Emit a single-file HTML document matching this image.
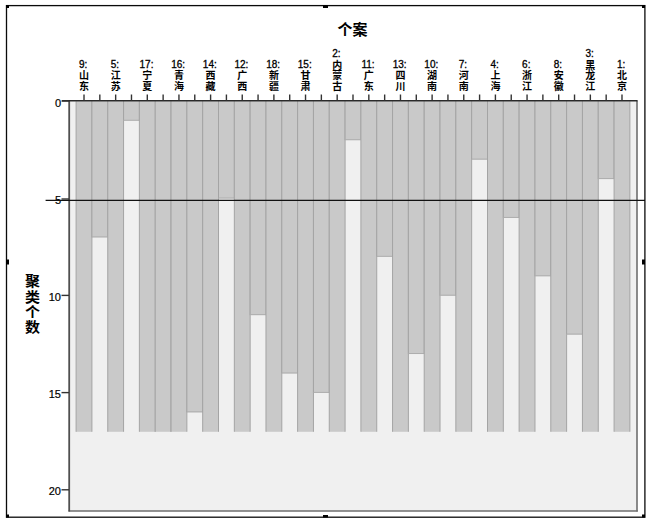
<!DOCTYPE html>
<html><head><meta charset="utf-8"><title>Icicle</title>
<style>
html,body{margin:0;padding:0;background:#fff;width:650px;height:524px;overflow:hidden}
svg{display:block}
.ax{font-family:"Liberation Sans","Noto Sans CJK SC",sans-serif;font-size:11px;fill:#000;stroke:#000;stroke-width:0.2px}
.lb{font-family:"Liberation Sans","Noto Sans CJK SC",sans-serif;font-size:10px;fill:#000;stroke:#000;stroke-width:0.3px}
.cj{font-family:"Liberation Sans","Noto Sans CJK SC",sans-serif;font-size:10px;font-weight:700;fill:#000}
.tt{font-family:"Liberation Sans","Noto Sans CJK SC",sans-serif;font-size:15px;font-weight:bold;fill:#000}
</style></head>
<body>
<svg width="650" height="524" viewBox="0 0 650 524">
<rect x="0" y="0" width="650" height="524" fill="#fff"/>
<rect x="69" y="100.7" width="568" height="410.3" fill="#f0f0f0"/>
<rect x="76.10" y="101.30" width="15.82" height="330.48" fill="#c9c9c9"/>
<line x1="76.10" y1="101.30" x2="76.10" y2="431.78" stroke="#a4a4a4" stroke-width="1"/>
<line x1="91.92" y1="101.30" x2="91.92" y2="431.78" stroke="#a4a4a4" stroke-width="1"/>
<rect x="91.92" y="101.30" width="15.82" height="136.08" fill="#c9c9c9"/>
<line x1="91.92" y1="101.30" x2="91.92" y2="237.38" stroke="#a4a4a4" stroke-width="1"/>
<line x1="107.75" y1="101.30" x2="107.75" y2="237.38" stroke="#a4a4a4" stroke-width="1"/>
<line x1="91.92" y1="236.88" x2="107.75" y2="236.88" stroke="#aeaeae" stroke-width="1"/>
<rect x="107.75" y="101.30" width="15.82" height="330.48" fill="#c9c9c9"/>
<line x1="107.75" y1="101.30" x2="107.75" y2="431.78" stroke="#a4a4a4" stroke-width="1"/>
<line x1="123.57" y1="101.30" x2="123.57" y2="431.78" stroke="#a4a4a4" stroke-width="1"/>
<rect x="123.57" y="101.30" width="15.82" height="19.44" fill="#c9c9c9"/>
<line x1="123.57" y1="101.30" x2="123.57" y2="120.74" stroke="#a4a4a4" stroke-width="1"/>
<line x1="139.39" y1="101.30" x2="139.39" y2="120.74" stroke="#a4a4a4" stroke-width="1"/>
<line x1="123.57" y1="120.24" x2="139.39" y2="120.24" stroke="#aeaeae" stroke-width="1"/>
<rect x="139.39" y="101.30" width="15.82" height="330.48" fill="#c9c9c9"/>
<line x1="139.39" y1="101.30" x2="139.39" y2="431.78" stroke="#a4a4a4" stroke-width="1"/>
<line x1="155.22" y1="101.30" x2="155.22" y2="431.78" stroke="#a4a4a4" stroke-width="1"/>
<rect x="155.22" y="101.30" width="15.82" height="330.48" fill="#c9c9c9"/>
<line x1="155.22" y1="101.30" x2="155.22" y2="431.78" stroke="#a4a4a4" stroke-width="1"/>
<line x1="171.04" y1="101.30" x2="171.04" y2="431.78" stroke="#a4a4a4" stroke-width="1"/>
<rect x="171.04" y="101.30" width="15.82" height="330.48" fill="#c9c9c9"/>
<line x1="171.04" y1="101.30" x2="171.04" y2="431.78" stroke="#a4a4a4" stroke-width="1"/>
<line x1="186.86" y1="101.30" x2="186.86" y2="431.78" stroke="#a4a4a4" stroke-width="1"/>
<rect x="186.86" y="101.30" width="15.82" height="311.04" fill="#c9c9c9"/>
<line x1="186.86" y1="101.30" x2="186.86" y2="412.34" stroke="#a4a4a4" stroke-width="1"/>
<line x1="202.68" y1="101.30" x2="202.68" y2="412.34" stroke="#a4a4a4" stroke-width="1"/>
<line x1="186.86" y1="411.84" x2="202.68" y2="411.84" stroke="#aeaeae" stroke-width="1"/>
<rect x="202.68" y="101.30" width="15.82" height="330.48" fill="#c9c9c9"/>
<line x1="202.68" y1="101.30" x2="202.68" y2="431.78" stroke="#a4a4a4" stroke-width="1"/>
<line x1="218.51" y1="101.30" x2="218.51" y2="431.78" stroke="#a4a4a4" stroke-width="1"/>
<rect x="218.51" y="101.30" width="15.82" height="97.20" fill="#c9c9c9"/>
<line x1="218.51" y1="101.30" x2="218.51" y2="198.50" stroke="#a4a4a4" stroke-width="1"/>
<line x1="234.33" y1="101.30" x2="234.33" y2="198.50" stroke="#a4a4a4" stroke-width="1"/>
<line x1="218.51" y1="198.00" x2="234.33" y2="198.00" stroke="#aeaeae" stroke-width="1"/>
<rect x="234.33" y="101.30" width="15.82" height="330.48" fill="#c9c9c9"/>
<line x1="234.33" y1="101.30" x2="234.33" y2="431.78" stroke="#a4a4a4" stroke-width="1"/>
<line x1="250.15" y1="101.30" x2="250.15" y2="431.78" stroke="#a4a4a4" stroke-width="1"/>
<rect x="250.15" y="101.30" width="15.82" height="213.84" fill="#c9c9c9"/>
<line x1="250.15" y1="101.30" x2="250.15" y2="315.14" stroke="#a4a4a4" stroke-width="1"/>
<line x1="265.98" y1="101.30" x2="265.98" y2="315.14" stroke="#a4a4a4" stroke-width="1"/>
<line x1="250.15" y1="314.64" x2="265.98" y2="314.64" stroke="#aeaeae" stroke-width="1"/>
<rect x="265.98" y="101.30" width="15.82" height="330.48" fill="#c9c9c9"/>
<line x1="265.98" y1="101.30" x2="265.98" y2="431.78" stroke="#a4a4a4" stroke-width="1"/>
<line x1="281.80" y1="101.30" x2="281.80" y2="431.78" stroke="#a4a4a4" stroke-width="1"/>
<rect x="281.80" y="101.30" width="15.82" height="272.16" fill="#c9c9c9"/>
<line x1="281.80" y1="101.30" x2="281.80" y2="373.46" stroke="#a4a4a4" stroke-width="1"/>
<line x1="297.62" y1="101.30" x2="297.62" y2="373.46" stroke="#a4a4a4" stroke-width="1"/>
<line x1="281.80" y1="372.96" x2="297.62" y2="372.96" stroke="#aeaeae" stroke-width="1"/>
<rect x="297.62" y="101.30" width="15.82" height="330.48" fill="#c9c9c9"/>
<line x1="297.62" y1="101.30" x2="297.62" y2="431.78" stroke="#a4a4a4" stroke-width="1"/>
<line x1="313.44" y1="101.30" x2="313.44" y2="431.78" stroke="#a4a4a4" stroke-width="1"/>
<rect x="313.44" y="101.30" width="15.82" height="291.60" fill="#c9c9c9"/>
<line x1="313.44" y1="101.30" x2="313.44" y2="392.90" stroke="#a4a4a4" stroke-width="1"/>
<line x1="329.27" y1="101.30" x2="329.27" y2="392.90" stroke="#a4a4a4" stroke-width="1"/>
<line x1="313.44" y1="392.40" x2="329.27" y2="392.40" stroke="#aeaeae" stroke-width="1"/>
<rect x="329.27" y="101.30" width="15.82" height="330.48" fill="#c9c9c9"/>
<line x1="329.27" y1="101.30" x2="329.27" y2="431.78" stroke="#a4a4a4" stroke-width="1"/>
<line x1="345.09" y1="101.30" x2="345.09" y2="431.78" stroke="#a4a4a4" stroke-width="1"/>
<rect x="345.09" y="101.30" width="15.82" height="38.88" fill="#c9c9c9"/>
<line x1="345.09" y1="101.30" x2="345.09" y2="140.18" stroke="#a4a4a4" stroke-width="1"/>
<line x1="360.91" y1="101.30" x2="360.91" y2="140.18" stroke="#a4a4a4" stroke-width="1"/>
<line x1="345.09" y1="139.68" x2="360.91" y2="139.68" stroke="#aeaeae" stroke-width="1"/>
<rect x="360.91" y="101.30" width="15.82" height="330.48" fill="#c9c9c9"/>
<line x1="360.91" y1="101.30" x2="360.91" y2="431.78" stroke="#a4a4a4" stroke-width="1"/>
<line x1="376.74" y1="101.30" x2="376.74" y2="431.78" stroke="#a4a4a4" stroke-width="1"/>
<rect x="376.74" y="101.30" width="15.82" height="155.52" fill="#c9c9c9"/>
<line x1="376.74" y1="101.30" x2="376.74" y2="256.82" stroke="#a4a4a4" stroke-width="1"/>
<line x1="392.56" y1="101.30" x2="392.56" y2="256.82" stroke="#a4a4a4" stroke-width="1"/>
<line x1="376.74" y1="256.32" x2="392.56" y2="256.32" stroke="#aeaeae" stroke-width="1"/>
<rect x="392.56" y="101.30" width="15.82" height="330.48" fill="#c9c9c9"/>
<line x1="392.56" y1="101.30" x2="392.56" y2="431.78" stroke="#a4a4a4" stroke-width="1"/>
<line x1="408.38" y1="101.30" x2="408.38" y2="431.78" stroke="#a4a4a4" stroke-width="1"/>
<rect x="408.38" y="101.30" width="15.82" height="252.72" fill="#c9c9c9"/>
<line x1="408.38" y1="101.30" x2="408.38" y2="354.02" stroke="#a4a4a4" stroke-width="1"/>
<line x1="424.21" y1="101.30" x2="424.21" y2="354.02" stroke="#a4a4a4" stroke-width="1"/>
<line x1="408.38" y1="353.52" x2="424.21" y2="353.52" stroke="#aeaeae" stroke-width="1"/>
<rect x="424.21" y="101.30" width="15.82" height="330.48" fill="#c9c9c9"/>
<line x1="424.21" y1="101.30" x2="424.21" y2="431.78" stroke="#a4a4a4" stroke-width="1"/>
<line x1="440.03" y1="101.30" x2="440.03" y2="431.78" stroke="#a4a4a4" stroke-width="1"/>
<rect x="440.03" y="101.30" width="15.82" height="194.40" fill="#c9c9c9"/>
<line x1="440.03" y1="101.30" x2="440.03" y2="295.70" stroke="#a4a4a4" stroke-width="1"/>
<line x1="455.85" y1="101.30" x2="455.85" y2="295.70" stroke="#a4a4a4" stroke-width="1"/>
<line x1="440.03" y1="295.20" x2="455.85" y2="295.20" stroke="#aeaeae" stroke-width="1"/>
<rect x="455.85" y="101.30" width="15.82" height="330.48" fill="#c9c9c9"/>
<line x1="455.85" y1="101.30" x2="455.85" y2="431.78" stroke="#a4a4a4" stroke-width="1"/>
<line x1="471.67" y1="101.30" x2="471.67" y2="431.78" stroke="#a4a4a4" stroke-width="1"/>
<rect x="471.67" y="101.30" width="15.82" height="58.32" fill="#c9c9c9"/>
<line x1="471.67" y1="101.30" x2="471.67" y2="159.62" stroke="#a4a4a4" stroke-width="1"/>
<line x1="487.50" y1="101.30" x2="487.50" y2="159.62" stroke="#a4a4a4" stroke-width="1"/>
<line x1="471.67" y1="159.12" x2="487.50" y2="159.12" stroke="#aeaeae" stroke-width="1"/>
<rect x="487.50" y="101.30" width="15.82" height="330.48" fill="#c9c9c9"/>
<line x1="487.50" y1="101.30" x2="487.50" y2="431.78" stroke="#a4a4a4" stroke-width="1"/>
<line x1="503.32" y1="101.30" x2="503.32" y2="431.78" stroke="#a4a4a4" stroke-width="1"/>
<rect x="503.32" y="101.30" width="15.82" height="116.64" fill="#c9c9c9"/>
<line x1="503.32" y1="101.30" x2="503.32" y2="217.94" stroke="#a4a4a4" stroke-width="1"/>
<line x1="519.14" y1="101.30" x2="519.14" y2="217.94" stroke="#a4a4a4" stroke-width="1"/>
<line x1="503.32" y1="217.44" x2="519.14" y2="217.44" stroke="#aeaeae" stroke-width="1"/>
<rect x="519.14" y="101.30" width="15.82" height="330.48" fill="#c9c9c9"/>
<line x1="519.14" y1="101.30" x2="519.14" y2="431.78" stroke="#a4a4a4" stroke-width="1"/>
<line x1="534.97" y1="101.30" x2="534.97" y2="431.78" stroke="#a4a4a4" stroke-width="1"/>
<rect x="534.97" y="101.30" width="15.82" height="174.96" fill="#c9c9c9"/>
<line x1="534.97" y1="101.30" x2="534.97" y2="276.26" stroke="#a4a4a4" stroke-width="1"/>
<line x1="550.79" y1="101.30" x2="550.79" y2="276.26" stroke="#a4a4a4" stroke-width="1"/>
<line x1="534.97" y1="275.76" x2="550.79" y2="275.76" stroke="#aeaeae" stroke-width="1"/>
<rect x="550.79" y="101.30" width="15.82" height="330.48" fill="#c9c9c9"/>
<line x1="550.79" y1="101.30" x2="550.79" y2="431.78" stroke="#a4a4a4" stroke-width="1"/>
<line x1="566.61" y1="101.30" x2="566.61" y2="431.78" stroke="#a4a4a4" stroke-width="1"/>
<rect x="566.61" y="101.30" width="15.82" height="233.28" fill="#c9c9c9"/>
<line x1="566.61" y1="101.30" x2="566.61" y2="334.58" stroke="#a4a4a4" stroke-width="1"/>
<line x1="582.44" y1="101.30" x2="582.44" y2="334.58" stroke="#a4a4a4" stroke-width="1"/>
<line x1="566.61" y1="334.08" x2="582.44" y2="334.08" stroke="#aeaeae" stroke-width="1"/>
<rect x="582.44" y="101.30" width="15.82" height="330.48" fill="#c9c9c9"/>
<line x1="582.44" y1="101.30" x2="582.44" y2="431.78" stroke="#a4a4a4" stroke-width="1"/>
<line x1="598.26" y1="101.30" x2="598.26" y2="431.78" stroke="#a4a4a4" stroke-width="1"/>
<rect x="598.26" y="101.30" width="15.82" height="77.76" fill="#c9c9c9"/>
<line x1="598.26" y1="101.30" x2="598.26" y2="179.06" stroke="#a4a4a4" stroke-width="1"/>
<line x1="614.08" y1="101.30" x2="614.08" y2="179.06" stroke="#a4a4a4" stroke-width="1"/>
<line x1="598.26" y1="178.56" x2="614.08" y2="178.56" stroke="#aeaeae" stroke-width="1"/>
<rect x="614.08" y="101.30" width="15.82" height="330.48" fill="#c9c9c9"/>
<line x1="614.08" y1="101.30" x2="614.08" y2="431.78" stroke="#a4a4a4" stroke-width="1"/>
<line x1="629.90" y1="101.30" x2="629.90" y2="431.78" stroke="#a4a4a4" stroke-width="1"/>
<line x1="637" y1="100.5" x2="637" y2="511.5" stroke="#6e6e6e" stroke-width="1.6"/>
<line x1="68.5" y1="511" x2="637.8" y2="511" stroke="#6e6e6e" stroke-width="1.6"/>
<line x1="69.2" y1="100" x2="69.2" y2="511.5" stroke="#505050" stroke-width="1.8"/>
<line x1="62" y1="100.8" x2="637.5" y2="100.8" stroke="#2a2a2a" stroke-width="1.6"/>
<line x1="84.01" y1="94.5" x2="84.01" y2="100.5" stroke="#333" stroke-width="1.4"/>
<line x1="99.83" y1="94.5" x2="99.83" y2="100.5" stroke="#333" stroke-width="1.4"/>
<line x1="115.66" y1="94.5" x2="115.66" y2="100.5" stroke="#333" stroke-width="1.4"/>
<line x1="131.48" y1="94.5" x2="131.48" y2="100.5" stroke="#333" stroke-width="1.4"/>
<line x1="147.30" y1="94.5" x2="147.30" y2="100.5" stroke="#333" stroke-width="1.4"/>
<line x1="163.13" y1="94.5" x2="163.13" y2="100.5" stroke="#333" stroke-width="1.4"/>
<line x1="178.95" y1="94.5" x2="178.95" y2="100.5" stroke="#333" stroke-width="1.4"/>
<line x1="194.77" y1="94.5" x2="194.77" y2="100.5" stroke="#333" stroke-width="1.4"/>
<line x1="210.60" y1="94.5" x2="210.60" y2="100.5" stroke="#333" stroke-width="1.4"/>
<line x1="226.42" y1="94.5" x2="226.42" y2="100.5" stroke="#333" stroke-width="1.4"/>
<line x1="242.24" y1="94.5" x2="242.24" y2="100.5" stroke="#333" stroke-width="1.4"/>
<line x1="258.06" y1="94.5" x2="258.06" y2="100.5" stroke="#333" stroke-width="1.4"/>
<line x1="273.89" y1="94.5" x2="273.89" y2="100.5" stroke="#333" stroke-width="1.4"/>
<line x1="289.71" y1="94.5" x2="289.71" y2="100.5" stroke="#333" stroke-width="1.4"/>
<line x1="305.53" y1="94.5" x2="305.53" y2="100.5" stroke="#333" stroke-width="1.4"/>
<line x1="321.36" y1="94.5" x2="321.36" y2="100.5" stroke="#333" stroke-width="1.4"/>
<line x1="337.18" y1="94.5" x2="337.18" y2="100.5" stroke="#333" stroke-width="1.4"/>
<line x1="353.00" y1="94.5" x2="353.00" y2="100.5" stroke="#333" stroke-width="1.4"/>
<line x1="368.83" y1="94.5" x2="368.83" y2="100.5" stroke="#333" stroke-width="1.4"/>
<line x1="384.65" y1="94.5" x2="384.65" y2="100.5" stroke="#333" stroke-width="1.4"/>
<line x1="400.47" y1="94.5" x2="400.47" y2="100.5" stroke="#333" stroke-width="1.4"/>
<line x1="416.29" y1="94.5" x2="416.29" y2="100.5" stroke="#333" stroke-width="1.4"/>
<line x1="432.12" y1="94.5" x2="432.12" y2="100.5" stroke="#333" stroke-width="1.4"/>
<line x1="447.94" y1="94.5" x2="447.94" y2="100.5" stroke="#333" stroke-width="1.4"/>
<line x1="463.76" y1="94.5" x2="463.76" y2="100.5" stroke="#333" stroke-width="1.4"/>
<line x1="479.59" y1="94.5" x2="479.59" y2="100.5" stroke="#333" stroke-width="1.4"/>
<line x1="495.41" y1="94.5" x2="495.41" y2="100.5" stroke="#333" stroke-width="1.4"/>
<line x1="511.23" y1="94.5" x2="511.23" y2="100.5" stroke="#333" stroke-width="1.4"/>
<line x1="527.06" y1="94.5" x2="527.06" y2="100.5" stroke="#333" stroke-width="1.4"/>
<line x1="542.88" y1="94.5" x2="542.88" y2="100.5" stroke="#333" stroke-width="1.4"/>
<line x1="558.70" y1="94.5" x2="558.70" y2="100.5" stroke="#333" stroke-width="1.4"/>
<line x1="574.52" y1="94.5" x2="574.52" y2="100.5" stroke="#333" stroke-width="1.4"/>
<line x1="590.35" y1="94.5" x2="590.35" y2="100.5" stroke="#333" stroke-width="1.4"/>
<line x1="606.17" y1="94.5" x2="606.17" y2="100.5" stroke="#333" stroke-width="1.4"/>
<line x1="621.99" y1="94.5" x2="621.99" y2="100.5" stroke="#333" stroke-width="1.4"/>
<line x1="61.5" y1="101.00" x2="69" y2="101.00" stroke="#333" stroke-width="1.4"/>
<text x="61" y="106.60" text-anchor="end" class="ax">0</text>
<line x1="61.5" y1="199.00" x2="69" y2="199.00" stroke="#333" stroke-width="1.4"/>
<text x="61" y="203.60" text-anchor="end" class="ax">5</text>
<line x1="61.5" y1="295.40" x2="69" y2="295.40" stroke="#333" stroke-width="1.4"/>
<text x="61" y="301.00" text-anchor="end" class="ax">10</text>
<line x1="61.5" y1="392.60" x2="69" y2="392.60" stroke="#333" stroke-width="1.4"/>
<text x="61" y="398.20" text-anchor="end" class="ax">15</text>
<line x1="61.5" y1="489.80" x2="69" y2="489.80" stroke="#333" stroke-width="1.4"/>
<text x="61" y="495.40" text-anchor="end" class="ax">20</text>
<line x1="45.6" y1="200.4" x2="645" y2="200.4" stroke="#111" stroke-width="1.1"/>
<text x="84.01" y="90.00" text-anchor="middle" class="cj">东</text>
<text x="84.01" y="79.40" text-anchor="middle" class="cj">山</text>
<text x="83.21" y="68.30" text-anchor="middle" class="lb">9:</text>
<text x="115.66" y="90.00" text-anchor="middle" class="cj">苏</text>
<text x="115.66" y="79.40" text-anchor="middle" class="cj">江</text>
<text x="114.86" y="68.30" text-anchor="middle" class="lb">5:</text>
<text x="147.30" y="90.00" text-anchor="middle" class="cj">夏</text>
<text x="147.30" y="79.40" text-anchor="middle" class="cj">宁</text>
<text x="146.50" y="68.30" text-anchor="middle" class="lb">17:</text>
<text x="178.95" y="90.00" text-anchor="middle" class="cj">海</text>
<text x="178.95" y="79.40" text-anchor="middle" class="cj">青</text>
<text x="178.15" y="68.30" text-anchor="middle" class="lb">16:</text>
<text x="210.60" y="90.00" text-anchor="middle" class="cj">藏</text>
<text x="210.60" y="79.40" text-anchor="middle" class="cj">西</text>
<text x="209.80" y="68.30" text-anchor="middle" class="lb">14:</text>
<text x="242.24" y="90.00" text-anchor="middle" class="cj">西</text>
<text x="242.24" y="79.40" text-anchor="middle" class="cj">广</text>
<text x="241.44" y="68.30" text-anchor="middle" class="lb">12:</text>
<text x="273.89" y="90.00" text-anchor="middle" class="cj">疆</text>
<text x="273.89" y="79.40" text-anchor="middle" class="cj">新</text>
<text x="273.09" y="68.30" text-anchor="middle" class="lb">18:</text>
<text x="305.53" y="90.00" text-anchor="middle" class="cj">肃</text>
<text x="305.53" y="79.40" text-anchor="middle" class="cj">甘</text>
<text x="304.73" y="68.30" text-anchor="middle" class="lb">15:</text>
<text x="337.18" y="90.00" text-anchor="middle" class="cj">古</text>
<text x="337.18" y="79.40" text-anchor="middle" class="cj">蒙</text>
<text x="337.18" y="68.80" text-anchor="middle" class="cj">内</text>
<text x="336.38" y="56.80" text-anchor="middle" class="lb">2:</text>
<text x="368.83" y="90.00" text-anchor="middle" class="cj">东</text>
<text x="368.83" y="79.40" text-anchor="middle" class="cj">广</text>
<text x="368.03" y="68.30" text-anchor="middle" class="lb">11:</text>
<text x="400.47" y="90.00" text-anchor="middle" class="cj">川</text>
<text x="400.47" y="79.40" text-anchor="middle" class="cj">四</text>
<text x="399.67" y="68.30" text-anchor="middle" class="lb">13:</text>
<text x="432.12" y="90.00" text-anchor="middle" class="cj">南</text>
<text x="432.12" y="79.40" text-anchor="middle" class="cj">湖</text>
<text x="431.32" y="68.30" text-anchor="middle" class="lb">10:</text>
<text x="463.76" y="90.00" text-anchor="middle" class="cj">南</text>
<text x="463.76" y="79.40" text-anchor="middle" class="cj">河</text>
<text x="462.96" y="68.30" text-anchor="middle" class="lb">7:</text>
<text x="495.41" y="90.00" text-anchor="middle" class="cj">海</text>
<text x="495.41" y="79.40" text-anchor="middle" class="cj">上</text>
<text x="494.61" y="68.30" text-anchor="middle" class="lb">4:</text>
<text x="527.06" y="90.00" text-anchor="middle" class="cj">江</text>
<text x="527.06" y="79.40" text-anchor="middle" class="cj">浙</text>
<text x="526.26" y="68.30" text-anchor="middle" class="lb">6:</text>
<text x="558.70" y="90.00" text-anchor="middle" class="cj">徽</text>
<text x="558.70" y="79.40" text-anchor="middle" class="cj">安</text>
<text x="557.90" y="68.30" text-anchor="middle" class="lb">8:</text>
<text x="590.35" y="90.00" text-anchor="middle" class="cj">江</text>
<text x="590.35" y="79.40" text-anchor="middle" class="cj">龙</text>
<text x="590.35" y="68.80" text-anchor="middle" class="cj">黑</text>
<text x="589.55" y="56.80" text-anchor="middle" class="lb">3:</text>
<text x="621.99" y="90.00" text-anchor="middle" class="cj">京</text>
<text x="621.99" y="79.40" text-anchor="middle" class="cj">北</text>
<text x="621.19" y="68.30" text-anchor="middle" class="lb">1:</text>
<text x="352.5" y="35" text-anchor="middle" class="tt">个案</text>
<text transform="translate(32.5,286.20) scale(1,0.92)" text-anchor="middle" class="tt">聚</text>
<text transform="translate(32.5,301.50) scale(1,0.92)" text-anchor="middle" class="tt">类</text>
<text transform="translate(32.5,316.80) scale(1,0.92)" text-anchor="middle" class="tt">个</text>
<text transform="translate(32.5,332.10) scale(1,0.92)" text-anchor="middle" class="tt">数</text>
<rect x="6.5" y="5.6" width="638.4" height="511.6" fill="none" stroke="#0a0a0a" stroke-width="1.3"/>
<rect x="6" y="5" width="3" height="3" fill="#000"/>
<rect x="642" y="5" width="3" height="3" fill="#000"/>
<rect x="6" y="514.5" width="3" height="3" fill="#000"/>
<rect x="642" y="514.5" width="3" height="3" fill="#000"/>
<rect x="323" y="5" width="5" height="3" fill="#000"/>
<rect x="323" y="515" width="5" height="2.5" fill="#000"/>
<rect x="6" y="259.5" width="3" height="5" fill="#000"/>
<rect x="642" y="259.5" width="3" height="5" fill="#000"/>
</svg>
</body></html>
